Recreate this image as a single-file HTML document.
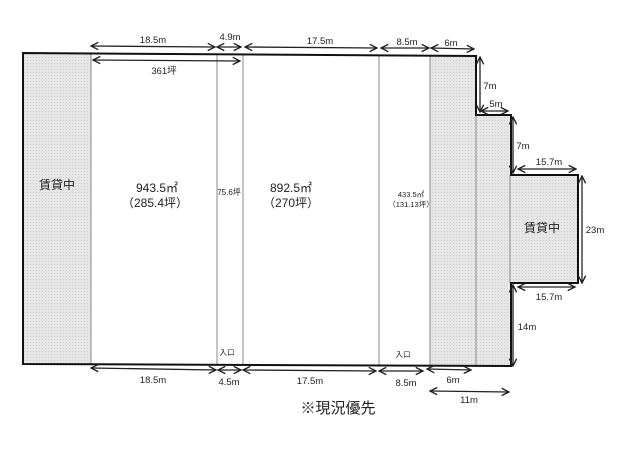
<!DOCTYPE html>
<html><head><meta charset="utf-8"><style>
html,body{margin:0;padding:0;background:#fff;}
svg{display:block;}
text{font-family:"Liberation Sans","Noto Sans CJK JP",sans-serif;fill:#222;}
</style></head><body>
<svg width="640" height="453" viewBox="0 0 640 453" xmlns="http://www.w3.org/2000/svg">
<defs>
<pattern id="g" width="3" height="3" patternUnits="userSpaceOnUse">
<rect width="3" height="3" fill="#e6e6e6"/><rect width="1" height="1" fill="#cfcfcf"/>
</pattern>
<marker id="a" viewBox="0 0 10 10" refX="9" refY="5" markerWidth="7" markerHeight="7" orient="auto-start-reverse">
<path d="M1,1 L9,5 L1,9" fill="none" stroke="#222" stroke-width="1.5"/>
</marker>
</defs>
<!-- gray regions -->
<rect x="23" y="54" width="68" height="310" fill="url(#g)"/>
<polygon points="430,55 476,56 476,115 511,115 511,175 578,175 578,283 511,283 511,365 430,365" fill="url(#g)"/>
<!-- inner lines -->
<g stroke="#888" stroke-width="1">
<line x1="91" y1="54" x2="91" y2="364"/>
<line x1="217" y1="55" x2="217" y2="364"/>
<line x1="243" y1="55" x2="243" y2="364"/>
<line x1="379" y1="55" x2="379" y2="365"/>
<line x1="430" y1="55" x2="430" y2="365"/>
<line x1="476" y1="115" x2="476" y2="365"/>
<line x1="510" y1="175" x2="510" y2="283"/>
</g>
<!-- outline -->
<polygon points="23,53 476,56 476,115 511,115 511,175 578,175 578,283 511,283 511,366 23,364" fill="none" stroke="#111" stroke-width="2"/>
<!-- dimension arrows -->
<g stroke="#222" stroke-width="1.3" marker-start="url(#a)" marker-end="url(#a)">
<line x1="91" y1="46" x2="215" y2="47"/>
<line x1="217" y1="47" x2="241" y2="47"/>
<line x1="245" y1="47" x2="377" y2="48"/>
<line x1="381" y1="48" x2="429" y2="48"/>
<line x1="431" y1="48" x2="474" y2="49"/>
<line x1="93" y1="60" x2="240" y2="61"/>
<line x1="480" y1="57" x2="480" y2="112"/>
<line x1="481" y1="111" x2="508" y2="111"/>
<line x1="513" y1="117" x2="513" y2="173"/>
<line x1="518" y1="169" x2="576" y2="169"/>
<line x1="582" y1="176" x2="582" y2="283"/>
<line x1="518" y1="287" x2="575" y2="287"/>
<line x1="513" y1="285" x2="513" y2="366"/>
<line x1="91" y1="368" x2="216" y2="370"/>
<line x1="218" y1="370" x2="241" y2="370"/>
<line x1="243" y1="370" x2="376" y2="371"/>
<line x1="379" y1="371" x2="423" y2="371"/>
<line x1="427" y1="369" x2="471" y2="370"/>
<line x1="430" y1="391" x2="509" y2="392"/>
</g>
<g font-size="9.5" text-anchor="middle">
<text x="153" y="43">18.5m</text>
<text x="230" y="40">4.9m</text>
<text x="320" y="44">17.5m</text>
<text x="407" y="45">8.5m</text>
<text x="451" y="46">6m</text>
<text x="164" y="74">361坪</text>
<text x="490" y="89">7m</text>
<text x="496" y="107">5m</text>
<text x="523" y="149">7m</text>
<text x="549" y="165">15.7m</text>
<text x="595" y="233">23m</text>
<text x="549" y="300">15.7m</text>
<text x="527" y="330">14m</text>
<text x="153" y="383">18.5m</text>
<text x="229" y="385">4.5m</text>
<text x="310" y="384">17.5m</text>
<text x="406" y="386">8.5m</text>
<text x="453" y="383">6m</text>
<text x="469" y="403">11m</text>
</g>
<g text-anchor="middle">
<text x="57" y="189" font-size="12">賃貸中</text>
<text x="157" y="192" font-size="12">943.5㎡</text>
<text x="155" y="207" font-size="12">（285.4坪）</text>
<text x="229" y="195" font-size="8">75.6坪</text>
<text x="291" y="192" font-size="12">892.5㎡</text>
<text x="291" y="207" font-size="12">（270坪）</text>
<text x="411" y="197" font-size="7.5">433.5㎡</text>
<text x="411" y="207" font-size="7.5">（131.13坪）</text>
<text x="542" y="232" font-size="12">賃貸中</text>
<text x="227" y="355" font-size="7.5">入口</text>
<text x="403" y="357" font-size="7.5">入口</text>
<text x="338" y="413" font-size="15">※現況優先</text>
</g>
</svg>
</body></html>
